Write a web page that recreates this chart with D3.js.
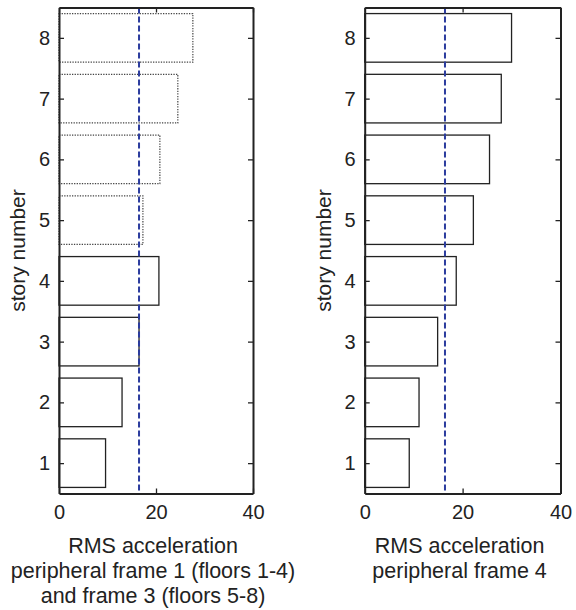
<!DOCTYPE html>
<html>
<head>
<meta charset="utf-8">
<script src="https://cdn.jsdelivr.net/npm/d3@7"></script>
<style>
  body { margin: 0; background: #fff; }
  svg { display: block; font-family: "Liberation Sans", Arial, Helvetica, sans-serif; }
</style>
</head>
<body>
<div id="chart"></div>
<script>
// story numbers and RMS acceleration per story
var stories = [1, 2, 3, 4, 5, 6, 7, 8];
var frame13 = [9.6, 13.0, 16.5, 20.6, 17.3, 20.8, 24.5, 27.6];
var frame4 = [9.1, 11.1, 14.9, 18.7, 22.2, 25.5, 27.9, 30.0];
var limit13 = 16.5;
var limit4 = 16.4;
var xTicks = [0, 20, 40];
var labels13 = ["RMS acceleration", "peripheral frame 1 (floors 1-4)", "and frame 3 (floors 5-8)"];
var labels4 = ["RMS acceleration", "peripheral frame 4"];

var width = 576,
    height = 610;

var svg = d3.select("#chart")
    .append("svg")
    .attr("width", width)
    .attr("height", height);

function panel(left, right, values, limit, xlabels, dottedFrom) {
    var top = 7.5,
        bottom = 493.5;

    var x = d3.scaleLinear().domain([0, 40]).range([left, right]);
    var y = d3.scaleLinear().domain([0.5, 8.5]).range([bottom, top]);
    var bh = (y(0) - y(0.8));

    var g = svg.append("g");

    // bars
    g.selectAll("rect.bar")
        .data(stories)
        .enter()
        .append("rect")
        .attr("class", "bar")
        .attr("x", x(0))
        .attr("y", function(d) { return y(d + 0.4); })
        .attr("width", function(d, i) { return x(values[i]) - x(0); })
        .attr("height", bh)
        .attr("fill", "none")
        .attr("stroke", function(d) { return d >= dottedFrom ? "#444" : "#222"; })
        .attr("stroke-width", function(d) { return d >= dottedFrom ? 1.2 : 1.3; })
        .attr("stroke-dasharray", function(d) { return d >= dottedFrom ? "1.3,1.3" : null; });

    // dashed limit line
    g.append("line")
        .attr("x1", x(limit)).attr("x2", x(limit))
        .attr("y1", top).attr("y2", bottom)
        .attr("stroke", "#2b3c9e")
        .attr("stroke-width", 2)
        .attr("stroke-dasharray", "6,3");

    // axes, matlab style (inward ticks, box)
    var bottomAxis = d3.axisBottom(x).tickValues(xTicks).tickSizeInner(-5).tickSizeOuter(0).tickPadding(11);
    var topAxis = d3.axisTop(x).tickValues(xTicks).tickSizeInner(-5).tickSizeOuter(0).tickFormat("");
    var leftAxis = d3.axisLeft(y).tickValues(stories).tickSizeInner(-5).tickSizeOuter(0).tickPadding(9);
    var rightAxis = d3.axisRight(y).tickValues(stories).tickSizeInner(-5).tickSizeOuter(0).tickFormat("");

    var ax = [
        g.append("g").attr("transform", "translate(0," + bottom + ")").call(bottomAxis),
        g.append("g").attr("transform", "translate(0," + top + ")").call(topAxis),
        g.append("g").attr("transform", "translate(" + left + ",0)").call(leftAxis),
        g.append("g").attr("transform", "translate(" + right + ",0)").call(rightAxis)
    ];
    ax.forEach(function(a) {
        a.select(".domain").attr("stroke", "#222").attr("stroke-width", 2);
        a.selectAll(".tick line").attr("stroke", "#222").attr("stroke-width", 1.3);
        a.selectAll(".tick text")
            .attr("fill", "#222")
            .style("font-size", "20px")
            .style("font-family", "'Liberation Sans', Arial, sans-serif");
    });

    // y label
    g.append("text")
        .attr("transform", "translate(" + (left - 34) + "," + ((top + bottom) / 2) + ")rotate(-90)")
        .attr("text-anchor", "middle")
        .attr("fill", "#222")
        .style("font-size", "21px")
        .text("story number");

    // x label lines
    g.selectAll("text.xl")
        .data(xlabels)
        .enter()
        .append("text")
        .attr("class", "xl")
        .attr("x", (left + right) / 2 - 3)
        .attr("y", function(d, i) { return 553 + i * 25; })
        .attr("text-anchor", "middle")
        .attr("fill", "#222")
        .style("font-size", "21.5px")
        .text(function(d) { return d; });
}

panel(59, 253, frame13, limit13, labels13, 5);
panel(364.7, 560.5, frame4, limit4, labels4, 99);
</script>
</body>
</html>
